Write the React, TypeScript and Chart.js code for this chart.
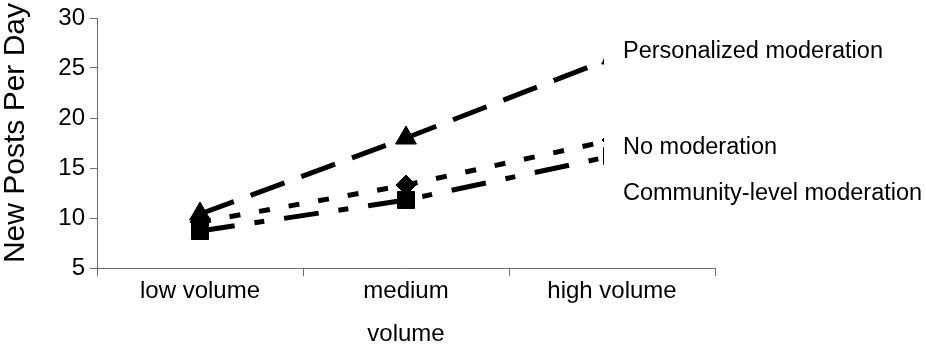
import React, { useEffect, useRef } from 'react';
import { Chart, registerables } from 'chart.js';

Chart.register(...registerables);

const categories: string[][] = [['low volume'], ['medium', 'volume'], ['high volume']];
const seriesNames = ['Personalized moderation', 'No moderation', 'Community-level moderation'];
const personalized = [10.4, 18.0, 26.0];
const noModeration = [9.6, 13.3, 17.8];
const communityLevel = [8.7, 11.8, 16.2];
const yMin = 5;
const yMax = 30;
const yStep = 5;
const yTitle = 'New Posts Per Day';
// value (in axis units) at which each series name label is vertically centred
const labelCenters = [26.6, 17.0, 12.4];

const FONT = '"Liberation Sans", Arial, sans-serif';
const AXIS_GRAY = '#6e6e6e';

const endLabels = {
  id: 'endLabels',
  afterDatasetsDraw(chart: any) {
    const { ctx, chartArea, scales } = chart;
    const x = scales.x;
    const y = scales.y;
    const xEnd = x.getPixelForValue(categories.length - 1);
    ctx.save();
    ctx.fillStyle = '#ffffff';
    ctx.fillRect(xEnd - 8, 0, chart.width - (xEnd - 8), chartArea.bottom - 2);
    ctx.fillStyle = '#000000';
    ctx.font = `23.5px ${FONT}`;
    ctx.textAlign = 'left';
    ctx.textBaseline = 'middle';
    seriesNames.forEach((name, i) => {
      ctx.fillText(name, xEnd + 11, y.getPixelForValue(labelCenters[i]));
    });
    // y-axis title
    ctx.translate(16, (chartArea.top + chartArea.bottom) / 2 - 10);
    ctx.rotate(-Math.PI / 2);
    ctx.textAlign = 'center';
    ctx.font = `30px ${FONT}`;
    ctx.fillText(yTitle, 0, 0);
    ctx.restore();
  },
};

export default function App() {
  const canvasRef = useRef<HTMLCanvasElement | null>(null);

  useEffect(() => {
    document.body.style.margin = '0';
    const canvas = canvasRef.current;
    if (!canvas) return;
    const common = {
      borderColor: '#000000',
      backgroundColor: '#000000',
      borderWidth: 5,
      pointBackgroundColor: '#000000',
      pointBorderColor: '#000000',
      pointBorderWidth: 1,
      fill: false,
      tension: 0,
      borderCapStyle: 'butt' as const,
    };
    const chart = new Chart(canvas, {
      type: 'line',
      data: {
        labels: categories,
        datasets: [
          {
            ...common,
            label: seriesNames[0],
            data: personalized,
            borderDash: [36, 18],
            pointStyle: 'triangle',
            pointRadius: 12,
          },
          {
            ...common,
            label: seriesNames[1],
            data: noModeration,
            borderDash: [11, 19],
            pointStyle: 'rectRot',
            pointRadius: 10,
          },
          {
            ...common,
            label: seriesNames[2],
            data: communityLevel,
            borderDash: [35, 20, 10, 20],
            pointStyle: 'rect',
            pointRadius: 12,
          },
        ],
      },
      options: {
        responsive: false,
        animation: false,
        layout: { padding: { top: 18, right: 211, bottom: 0, left: 0 } },
        plugins: {
          legend: { display: false },
          tooltip: { enabled: false },
        },
        scales: {
          x: {
            offset: true,
            afterFit: (s: any) => {
              s.height = 88;
            },
            grid: {
              offset: true,
              drawOnChartArea: false,
              drawTicks: true,
              tickLength: 8,
              color: AXIS_GRAY,
            },
            border: { display: true, color: AXIS_GRAY, width: 1 },
            ticks: {
              color: '#000000',
              padding: -6,
              maxRotation: 0,
              autoSkip: false,
              font: { family: FONT, size: 24, lineHeight: 1.8 },
            },
          },
          y: {
            min: yMin,
            max: yMax,
            afterFit: (s: any) => {
              s.width = 97;
            },
            grid: {
              drawOnChartArea: false,
              drawTicks: true,
              tickLength: 7,
              color: AXIS_GRAY,
            },
            border: { display: true, color: AXIS_GRAY, width: 1 },
            ticks: {
              stepSize: yStep,
              color: '#000000',
              padding: 5,
              font: { family: FONT, size: 24, lineHeight: 1.0 },
            },
          },
        },
      },
      plugins: [endLabels],
    });
    return () => chart.destroy();
  }, []);

  return (
    <div style={{ position: 'absolute', left: 0, top: 0, width: 926, height: 356 }}>
      <canvas ref={canvasRef} width={926} height={356} />
    </div>
  );
}
